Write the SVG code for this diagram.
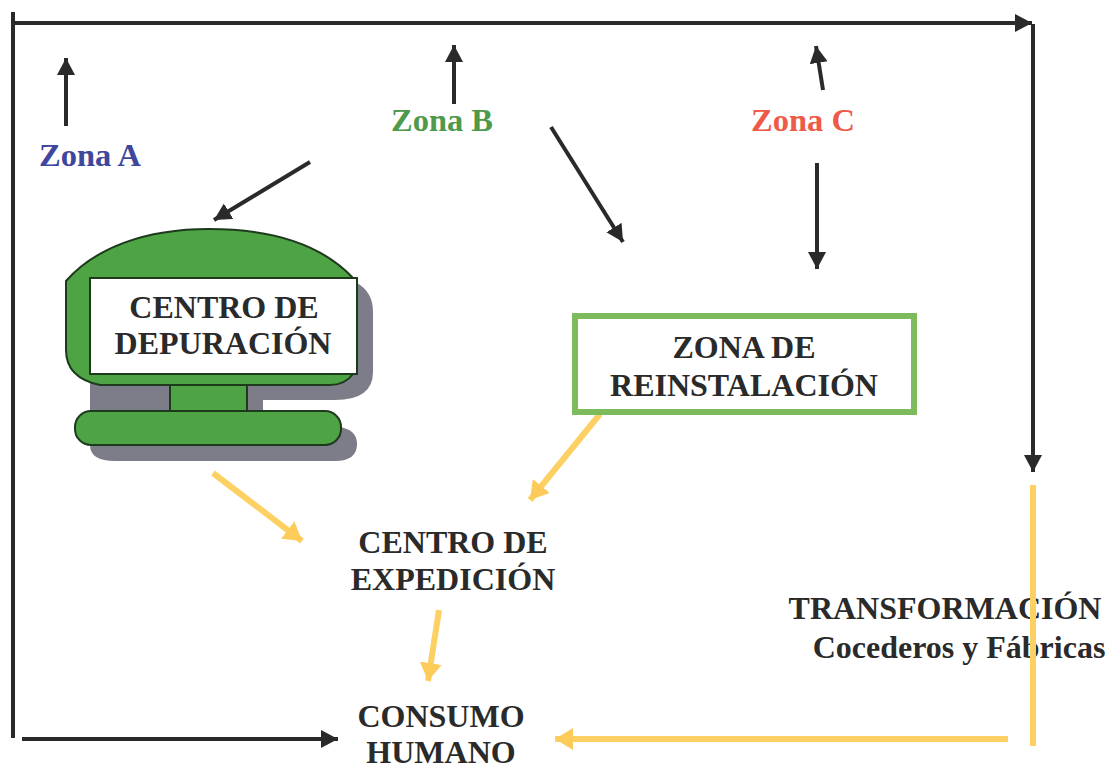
<svg xmlns="http://www.w3.org/2000/svg" width="1120" height="770" viewBox="0 0 1120 770">
<style>
text{font-family:"Liberation Serif","Times New Roman",serif;font-weight:bold;fill:#2a2a2a;text-anchor:middle;font-size:32px}
.k{fill:none;stroke:#2a2a2a;stroke-width:4}
.y{fill:none;stroke:#fdd063;stroke-width:6}
.g{fill:#4ea345;stroke:#1d3a1d;stroke-width:2}
.s{fill:#7d7d8a}
.z{font-size:32.5px}
</style>
<defs>
<marker id="ak" markerUnits="userSpaceOnUse" markerWidth="18" markerHeight="20" refX="17" refY="9" orient="auto"><path d="M0 0L17 9L0 18Z" fill="#2a2a2a"/></marker>
<marker id="ay" markerUnits="userSpaceOnUse" markerWidth="20" markerHeight="24" refX="18" refY="11" orient="auto"><path d="M0 0L18 11L0 22Z" fill="#fdcb5a"/></marker>
</defs>
<rect width="1120" height="770" fill="#fff"/>
<g id="connectors">
<path class="k" d="M13 12V738"/>
<path class="k" marker-end="url(#ak)" d="M13 23H1032"/>
<path class="k" marker-end="url(#ak)" d="M1033 24V472"/>
<path class="k" marker-end="url(#ak)" d="M22 739H338"/>
<path class="k" marker-end="url(#ak)" d="M66 126V58"/>
<path class="k" marker-end="url(#ak)" d="M454 104V45"/>
<path class="k" marker-end="url(#ak)" d="M823 90L816 46"/>
<path class="k" marker-end="url(#ak)" d="M310 162L214 220"/>
<path class="k" marker-end="url(#ak)" d="M551 127L623 242"/>
<path class="k" marker-end="url(#ak)" d="M817 163V269"/>
<path class="y" marker-end="url(#ay)" d="M213 473L302 541"/>
<path class="y" marker-end="url(#ay)" d="M600 414L530 500"/>
<path class="y" marker-end="url(#ay)" d="M439 610L428 681"/>
<path class="y" marker-end="url(#ay)" d="M1008 739H555"/>
</g>
<g id="zona-a"><text class="z" x="90" y="166" style="fill:#3f479c">Zona A</text></g>
<g id="zona-b"><text class="z" x="442" y="131" style="fill:#4f9a4a">Zona B</text></g>
<g id="zona-c"><text class="z" x="803" y="131" style="fill:#ef5a48">Zona C</text></g>
<g id="centro-depuracion">
<path class="s" d="M357 283Q373 292 373 312V372Q373 400 335 400H263V427H340Q357 430 357 444Q357 461 335 461H115Q90 461 90 445V374H357Z"/>
<path class="g" d="M66 281C95 248 145 229 209 229C272 229 322 245 353 278V374Q345 385 330 385H100Q66 378 66 350Z"/>
<rect class="g" x="170" y="385" width="77" height="26"/>
<rect class="g" x="75" y="411" width="266" height="34" rx="16"/>
<rect x="90" y="278" width="267" height="96" fill="#fff" stroke="#1d3a1d" stroke-width="2"/>
<text x="224" y="318">CENTRO DE</text>
<text x="223" y="354">DEPURACIÓN</text>
</g>
<g id="zona-reinstalacion">
<rect x="575" y="316" width="339" height="96" fill="#fff" stroke="#7dbb5c" stroke-width="6"/>
<text x="744" y="358">ZONA DE</text>
<text x="744" y="396">REINSTALACIÓN</text>
</g>
<g id="centro-expedicion">
<text x="453" y="553">CENTRO DE</text>
<text x="453" y="590">EXPEDICIÓN</text>
</g>
<g id="consumo-humano">
<text x="441" y="727">CONSUMO</text>
<text x="441" y="763">HUMANO</text>
</g>
<g id="transformacion">
<text x="945" y="619">TRANSFORMACIÓN</text>
<text x="959" y="658">Cocederos y Fábricas</text>
</g>
<path class="y" d="M1033 485V746"/>
</svg>
